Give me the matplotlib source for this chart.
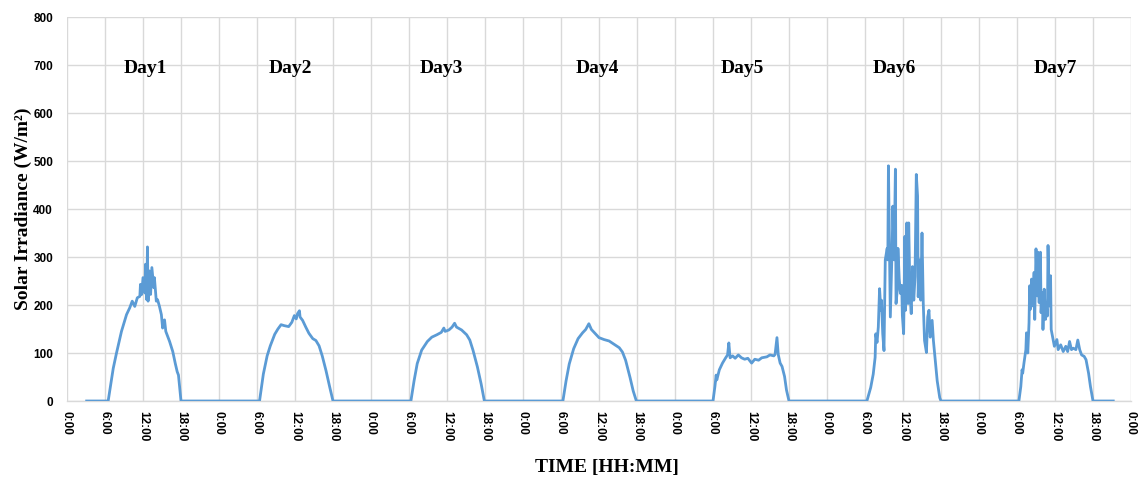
import matplotlib
matplotlib.use("Agg")
import matplotlib.pyplot as plt
import numpy as np

# ---- data (hours of day, W/m^2) ----
record_start_hour = 3.1      # first sample, day 1
record_end_hour = 21.2       # last sample, day 7

day1_h = [6.5, 7.3, 7.8, 8.6, 9.4, 9.9, 10.3, 10.7, 11.1, 11.5, 11.6, 11.8, 12.0, 12.3, 12.4, 12.6, 12.7, 12.8, 13.0, 13.2,
          13.4, 13.7, 13.8, 14.1, 14.3, 14.6, 14.9, 15.1, 15.4, 15.6, 16.2, 16.7, 17.1, 17.4, 17.6, 18.0]
day1_v = [0, 68, 99, 145, 180, 194, 208, 197, 215, 218, 243, 222, 257, 225, 285, 211, 321, 208, 271, 222,
          278, 236, 257, 208, 211, 197, 180, 152, 169, 145, 124, 103, 78, 61, 54, 0]

day2_h = [6.4, 7.0, 7.6, 8.1, 8.8, 9.3, 9.8, 10.3, 11.0, 11.5, 11.9, 12.2, 12.4, 12.7, 12.8, 13.2, 13.7, 14.2, 14.8, 15.3,
          15.8, 16.3, 16.9, 17.5, 18.0]
day2_v = [0, 56, 94, 115, 139, 150, 159, 157, 155, 164, 178, 171, 182, 188, 175, 168, 154, 141, 130, 126,
          115, 94, 63, 28, 0]

day3_h = [6.3, 6.8, 7.3, 8.0, 8.9, 9.6, 10.4, 11.1, 11.5, 11.7, 12.3, 12.8, 13.2, 13.5, 14.3, 15.1, 15.6, 16.1, 16.8, 17.4, 17.9]
day3_v = [0, 42, 78, 106, 124, 133, 138, 143, 152, 145, 148, 154, 162, 154, 148, 138, 127, 106, 71, 35, 0]

day4_h = [6.3, 6.8, 7.3, 8.0, 8.7, 9.4, 9.9, 10.4, 10.8, 11.5, 12.0, 12.8, 13.6, 14.4, 15.2, 15.7, 16.2, 16.9, 17.4, 17.9]
day4_v = [0, 42, 77, 109, 130, 142, 149, 161, 149, 139, 132, 128, 125, 118, 111, 102, 85, 49, 21, 0]

day5_h = [6.0, 6.3, 6.5, 6.6, 7.0, 7.5, 8.0, 8.3, 8.5, 8.7, 9.1, 9.5, 10.0, 10.5, 11.0, 11.5, 12.1, 12.6, 13.2, 13.7,
          14.5, 15.0, 15.6, 15.8, 16.1, 16.3, 16.6, 16.9, 17.3, 17.6, 18.0]
day5_v = [0, 30, 54, 44, 65, 79, 90, 96, 121, 90, 94, 89, 96, 90, 87, 89, 79, 87, 85, 90,
          92, 96, 94, 97, 132, 97, 79, 72, 51, 23, 0]

day6_h = [6.3, 6.6, 6.9, 7.3, 7.6, 7.7, 7.9, 8.1, 8.3, 8.5, 8.6, 8.8, 9.0, 9.2, 9.5, 9.6, 9.7, 9.9, 10.0, 10.3,
          10.4, 10.6, 10.8, 10.9, 11.1, 11.2, 11.4, 11.6, 11.8, 11.9, 12.1, 12.3, 12.4, 12.6, 12.8, 12.9, 13.1, 13.3, 13.5, 13.7,
          13.9, 14.1, 14.3, 14.4, 14.6, 14.8, 15.0, 15.2, 15.4, 15.7, 15.9, 16.1, 16.3, 16.6, 16.8, 17.1, 17.4, 17.8, 18.0]
day6_v = [0, 14, 28, 56, 91, 140, 122, 154, 234, 189, 210, 140, 105, 294, 318, 294, 490, 273, 175, 329,
          406, 294, 483, 203, 231, 318, 255, 224, 241, 178, 140, 343, 189, 371, 203, 371, 224, 182, 280, 210,
          259, 472, 427, 217, 294, 210, 350, 203, 126, 101, 175, 189, 133, 168, 126, 84, 42, 7, 0]

day7_h = [6.3, 6.6, 6.8, 6.9, 7.1, 7.4, 7.5, 7.7, 7.9, 8.0, 8.1, 8.3, 8.5, 8.7, 8.8, 9.0, 9.2, 9.3, 9.5, 9.7,
          9.8, 10.0, 10.1, 10.3, 10.5, 10.6, 10.8, 10.9, 11.1, 11.3, 11.4, 11.6, 11.9, 12.3, 12.5, 12.9, 13.3, 13.7, 14.0, 14.3,
          14.6, 14.9, 15.3, 15.6, 15.9, 16.2, 16.6, 16.9, 17.3, 17.6, 18.0]
day7_v = [0, 30, 65, 58, 79, 107, 142, 100, 163, 240, 191, 254, 198, 268, 170, 317, 219, 310, 205, 310,
          184, 226, 149, 233, 170, 205, 177, 324, 198, 261, 149, 135, 114, 128, 107, 117, 103, 114, 103, 124,
          107, 110, 107, 127, 107, 96, 93, 86, 58, 30, 0]

day_names = ["Day1", "Day2", "Day3", "Day4", "Day5", "Day6", "Day7"]
tick_labels = ["0:00", "6:00", "12:00", "18:00"]

# ---- build the continuous series ----
days_h = [day1_h, day2_h, day3_h, day4_h, day5_h, day6_h, day7_h]
days_v = [day1_v, day2_v, day3_v, day4_v, day5_v, day6_v, day7_v]
t = [record_start_hour]
y = [0]
for d, (hh, vv) in enumerate(zip(days_h, days_v)):
    t += [24 * d + h for h in hh]
    y += list(vv)
t.append(24 * 6 + record_end_hour)
y.append(0)

# ---- figure ----
fig = plt.figure(figsize=(11.42, 4.80), dpi=100)
ax = fig.add_axes([67 / 1142, 1 - 401 / 480, 1064 / 1142, 384 / 480])

ax.plot(t, y, color="#5B9BD5", linewidth=2.0, solid_joinstyle="round", zorder=3)

ax.set_xlim(0, 168)
ax.set_ylim(0, 800)
xt = np.arange(0, 169, 6)
ax.set_xticks(xt)
ax.set_xticklabels([tick_labels[i % 4] for i in range(len(xt))], rotation=-90,
                   fontfamily="Liberation Sans", fontweight="bold", fontsize=8.5)
ax.set_yticks(np.arange(0, 801, 100))
ax.set_yticklabels([str(v) for v in range(0, 801, 100)],
                   fontfamily="Liberation Sans", fontweight="bold", fontsize=8.5)
ax.tick_params(axis="both", length=0)
ax.tick_params(axis="x", pad=7)
ax.tick_params(axis="y", pad=10)

ax.grid(True, color="#D9D9D9", linewidth=1.0, zorder=0)
ax.set_axisbelow(True)
for s in ["top", "right", "left"]:
    ax.spines[s].set_visible(False)
ax.spines["bottom"].set_color("#D9D9D9")
ax.spines["bottom"].set_linewidth(1.0)

serif_bold = dict(fontfamily="Liberation Serif", fontweight="bold")
ax.set_ylabel("Solar Irradiance (W/m²)", fontsize=14, **serif_bold)
ax.yaxis.set_label_coords(-0.033, 0.5)
ax.set_xlabel("TIME [HH:MM]", fontsize=14, **serif_bold)
ax.xaxis.set_label_coords(0.507, -0.152)

label_hour = [12.3, 11.2, 11.1, 11.7, 10.7, 10.7, 12.0]
for d, (name, lh) in enumerate(zip(day_names, label_hour)):
    ax.text(24 * d + lh, 693, name, ha="center", va="center", fontsize=14, **serif_bold)

fig.savefig("out.png", dpi=100)
